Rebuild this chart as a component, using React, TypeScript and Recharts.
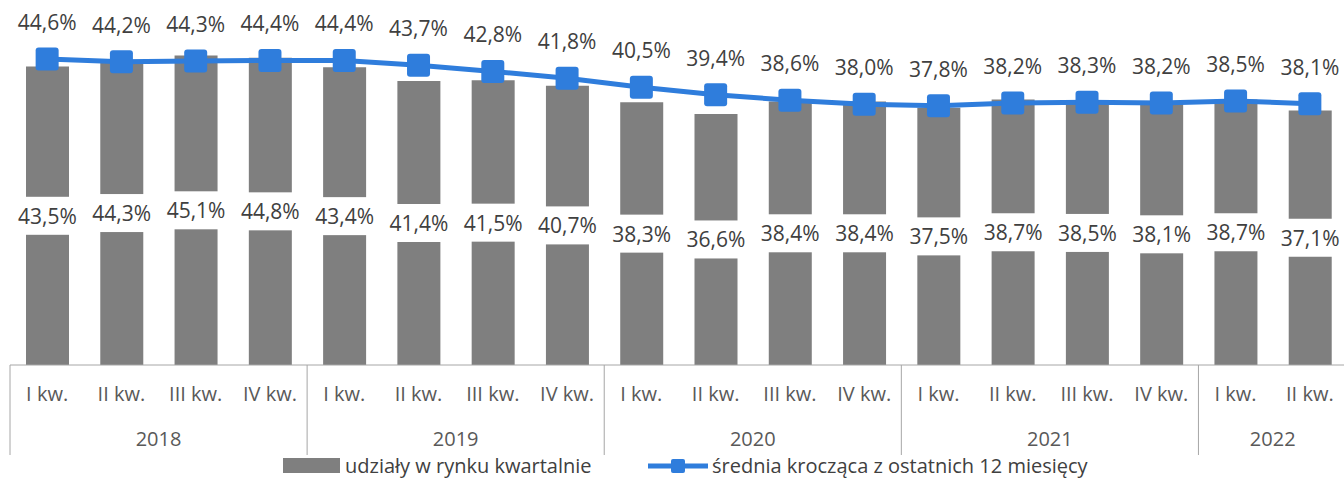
import React from 'react';
import { ComposedChart, Bar, Line, XAxis, YAxis, LabelList } from 'recharts';

const quarters = [
  'I kw.', 'II kw.', 'III kw.', 'IV kw.',
  'I kw.', 'II kw.', 'III kw.', 'IV kw.',
  'I kw.', 'II kw.', 'III kw.', 'IV kw.',
  'I kw.', 'II kw.', 'III kw.', 'IV kw.',
  'I kw.', 'II kw.',
];
const years = [
  '2018', '2018', '2018', '2018',
  '2019', '2019', '2019', '2019',
  '2020', '2020', '2020', '2020',
  '2021', '2021', '2021', '2021',
  '2022', '2022',
];
const quarterlyShare = [43.5, 44.3, 45.1, 44.8, 43.4, 41.4, 41.5, 40.7, 38.3, 36.6, 38.4, 38.4, 37.5, 38.7, 38.5, 38.1, 38.7, 37.1];
const movingAvg = [44.6, 44.2, 44.3, 44.4, 44.4, 43.7, 42.8, 41.8, 40.5, 39.4, 38.6, 38.0, 37.8, 38.2, 38.3, 38.2, 38.5, 38.1];

const data = quarters.map((q, i) => ({
  key: `${years[i]} ${q}`,
  share: quarterlyShare[i],
  avg: movingAvg[i],
}));

const W = 1350;
const H = 504;
const margin = { top: 22, right: 3, bottom: 69, left: 10 };
const AXIS_H = 70;
const plotBottom = H - margin.bottom - AXIS_H;
const band = (W - margin.left - margin.right) / quarters.length;

const FONT = '"Open Sans", sans-serif';
const BAR = '#7f7f7f';
const BLUE = '#2f7ddc';
const TEXT = '#404040';
const AXIS = '#a6a6a6';

const fmt = (v: number) => `${v.toFixed(1).replace('.', ',')}%`;

const groupSize = (i: number) => years.filter((y) => y === years[i]).length;

const QuarterTick = (props: any) => {
  const { x, payload } = props;
  const i = payload.index;
  const first = i === 0 || years[i] !== years[i - 1];
  const left = x - band / 2;
  return (
    <g>
      <text x={x} y={plotBottom + 28} textAnchor="middle" dominantBaseline="central"
        fontSize={20} fill="#595959" fontFamily={FONT}>
        {quarters[i]}
      </text>
      {first && (
        <>
          <line x1={left} x2={left} y1={plotBottom} y2={plotBottom + 90} stroke={AXIS} strokeWidth={1} />
          <text x={left + (groupSize(i) * band) / 2} y={plotBottom + 73} textAnchor="middle"
            dominantBaseline="central" fontSize={20} fill="#595959" fontFamily={FONT}>
            {years[i]}
          </text>
        </>
      )}
    </g>
  );
};

const BarLabel = (props: any) => {
  const { x, y, width, height, value } = props;
  const cx = x + width / 2;
  const cy = y + height / 2;
  return (
    <g>
      <rect x={cx - 36} y={cy - 19} width={72} height={38} fill="#ffffff" />
      <text x={cx} y={cy} textAnchor="middle" dominantBaseline="central"
        fontSize={21} fill={TEXT} fontFamily={FONT}>
        {fmt(value)}
      </text>
    </g>
  );
};

const LineLabel = (props: any) => {
  const { x, y, value } = props;
  return (
    <text x={x} y={y - 37} textAnchor="middle" dominantBaseline="central"
      fontSize={21} fill={TEXT} fontFamily={FONT}>
      {fmt(value)}
    </text>
  );
};

const SquareDot = (props: any) => {
  const { cx, cy } = props;
  if (cx == null || cy == null) return null;
  return <rect x={cx - 11.5} y={cy - 11.5} width={23} height={23} rx={3} fill={BLUE} />;
};

const legendItem: React.CSSProperties = {
  position: 'absolute',
  top: 452,
  display: 'flex',
  alignItems: 'center',
  fontFamily: FONT,
  fontSize: 20,
  color: TEXT,
  whiteSpace: 'nowrap',
};

const App: React.FC = () => {
  return (
    <div style={{ position: 'absolute', left: 0, top: 0, width: 1344, height: 504, overflow: 'hidden', background: '#fff' }}>
      <ComposedChart width={W} height={H} data={data} margin={margin}>
        <XAxis
          dataKey="key"
          interval={0}
          height={AXIS_H}
          tick={<QuarterTick />}
          tickLine={false}
          axisLine={{ stroke: AXIS, strokeWidth: 1 }}
        />
        <YAxis hide domain={[0, 50]} />
        <Bar dataKey="share" fill={BAR} barSize={43} isAnimationActive={false}>
          <LabelList dataKey="share" content={<BarLabel />} />
        </Bar>
        <Line
          dataKey="avg"
          stroke={BLUE}
          strokeWidth={5}
          dot={<SquareDot />}
          activeDot={false}
          isAnimationActive={false}
        >
          <LabelList dataKey="avg" content={<LineLabel />} />
        </Line>
      </ComposedChart>
      <div style={{ ...legendItem, left: 283 }}>
        <span style={{ display: 'inline-block', width: 57, height: 15, background: BAR, marginRight: 5 }} />
        <span>udziały w rynku kwartalnie</span>
      </div>
      <div style={{ ...legendItem, left: 648 }}>
        <svg width={60} height={20} style={{ marginRight: 4 }}>
          <line x1={0} x2={60} y1={10} y2={10} stroke={BLUE} strokeWidth={5} />
          <rect x={23} y={3} width={14} height={14} rx={2} fill={BLUE} />
        </svg>
        <span>średnia krocząca z ostatnich 12 miesięcy</span>
      </div>
    </div>
  );
};

export default App;
